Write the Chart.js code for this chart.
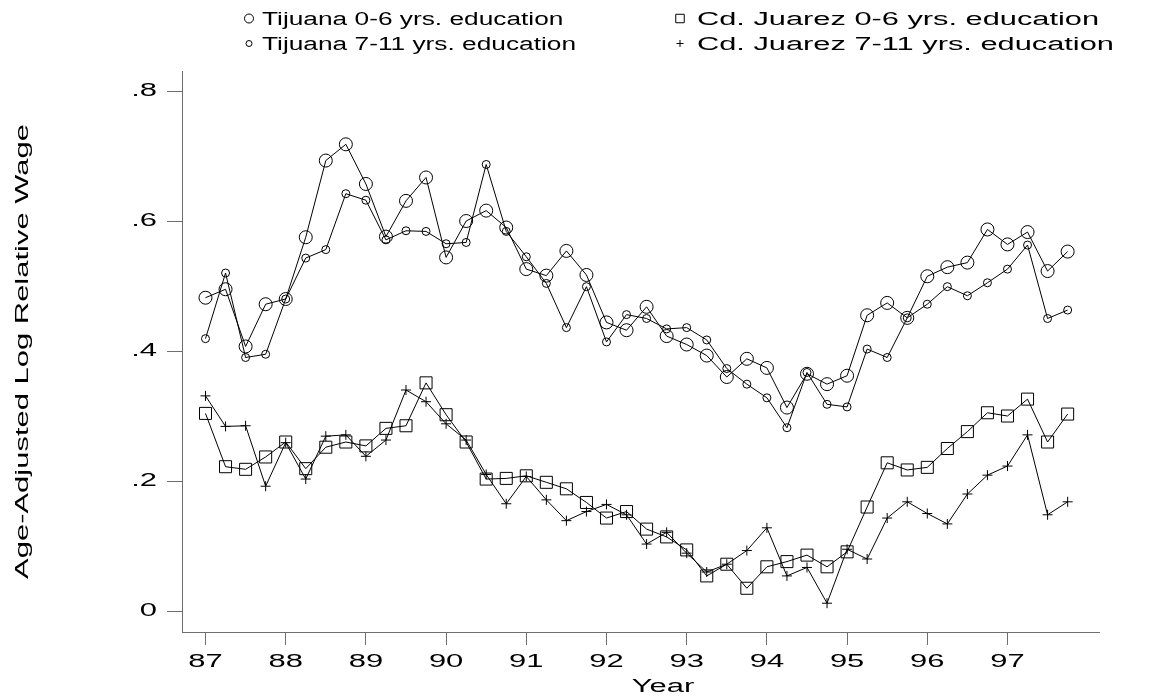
<!DOCTYPE html>
<html>
<head>
<meta charset="utf-8">
<script src="https://cdn.jsdelivr.net/npm/chart.js@4.4.0/dist/chart.umd.min.js"></script>
<style>
  html, body { margin: 0; padding: 0; background: #fff; }
</style>
</head>
<body>
<canvas id="chart" width="1151" height="700"></canvas>
<script>
// quarterly observations, 87q1 .. 97q4
const years = [
  87, 87.25, 87.5, 87.75, 88, 88.25, 88.5, 88.75, 89, 89.25, 89.5, 89.75,
  90, 90.25, 90.5, 90.75, 91, 91.25, 91.5, 91.75, 92, 92.25, 92.5, 92.75,
  93, 93.25, 93.5, 93.75, 94, 94.25, 94.5, 94.75, 95, 95.25, 95.5, 95.75,
  96, 96.25, 96.5, 96.75, 97, 97.25, 97.5, 97.75
];

const tijuana06 = [
  0.482, 0.495, 0.407, 0.472, 0.480, 0.575, 0.693, 0.718, 0.657, 0.576, 0.631, 0.667,
  0.544, 0.600, 0.616, 0.590, 0.526, 0.516, 0.554, 0.517, 0.444, 0.432, 0.468, 0.423,
  0.410, 0.393, 0.360, 0.388, 0.374, 0.313, 0.365, 0.349, 0.362, 0.455, 0.474, 0.451,
  0.515, 0.529, 0.536, 0.587, 0.564, 0.583, 0.523, 0.553
];

const tijuana711 = [
  0.419, 0.520, 0.390, 0.395, 0.480, 0.543, 0.556, 0.642, 0.632, 0.571, 0.585, 0.584,
  0.565, 0.567, 0.687, 0.584, 0.545, 0.504, 0.436, 0.499, 0.414, 0.456, 0.450, 0.434,
  0.436, 0.417, 0.373, 0.349, 0.328, 0.282, 0.367, 0.318, 0.314, 0.403, 0.390, 0.451,
  0.472, 0.499, 0.485, 0.505, 0.526, 0.563, 0.450, 0.463
];

const juarez06 = [
  0.304, 0.222, 0.218, 0.237, 0.260, 0.219, 0.252, 0.260, 0.254, 0.281, 0.285, 0.351,
  0.302, 0.260, 0.203, 0.204, 0.208, 0.198, 0.188, 0.167, 0.143, 0.153, 0.126, 0.114,
  0.094, 0.054, 0.072, 0.035, 0.068, 0.076, 0.086, 0.068, 0.091, 0.160, 0.228, 0.217,
  0.221, 0.250, 0.276, 0.305, 0.300, 0.326, 0.260, 0.303
];

const juarez711 = [
  0.331, 0.284, 0.285, 0.192, 0.259, 0.203, 0.269, 0.271, 0.238, 0.263, 0.340, 0.322,
  0.288, 0.263, 0.210, 0.165, 0.207, 0.171, 0.139, 0.153, 0.164, 0.148, 0.103, 0.121,
  0.089, 0.060, 0.072, 0.093, 0.128, 0.054, 0.067, 0.012, 0.095, 0.080, 0.143, 0.168,
  0.150, 0.134, 0.180, 0.209, 0.223, 0.271, 0.148, 0.168
];

const seriesNames = [
  'Tijuana 0-6 yrs. education',
  'Tijuana 7-11 yrs. education',
  'Cd. Juarez 0-6 yrs. education',
  'Cd. Juarez 7-11 yrs. education'
];

const xTicks = [87, 88, 89, 90, 91, 92, 93, 94, 95, 96, 97];
const xTickLabels = ['87', '88', '89', '90', '91', '92', '93', '94', '95', '96', '97'];
const yTicks = [0, 0.2, 0.4, 0.6, 0.8];
const yTickLabels = ['0', '.2', '.4', '.6', '.8'];
const xTitle = 'Year';
const yTitle = 'Age-Adjusted Log Relative Wage';

const FONT = '18px "Liberation Sans", Arial, sans-serif';
const STRETCH = 1.72;  // the original lettering is drawn very wide
const AXIS = '#6e6e6e';

const toPoints = (vals) => years.map((x, i) => ({ x: x, y: vals[i] }));

// one marker look per series: [pointStyle, radius in plot, radius in legend]
const markers = [
  ['circle', 6.5, 4.5],
  ['circle', 4, 3],
  ['rect', 8.5, 6],
  ['cross', 5, 3.5]
];
const seriesValues = [tijuana06, tijuana711, juarez06, juarez711];

const datasets = seriesValues.map((vals, i) => ({
  label: seriesNames[i],
  data: toPoints(vals),
  borderColor: '#000',
  borderWidth: 1,
  backgroundColor: 'transparent',
  pointStyle: markers[i][0],
  pointRadius: markers[i][1],
  pointBorderColor: '#000',
  pointBorderWidth: 1,
  pointBackgroundColor: 'transparent',
  tension: 0
}));

function drawText(ctx, str, x, y, align, baseline, rot, stretch) {
  ctx.save();
  ctx.translate(x, y);
  if (rot) ctx.rotate(rot);
  ctx.scale(stretch || STRETCH, 1);
  ctx.font = FONT;
  ctx.fillStyle = '#000';
  ctx.textAlign = align;
  ctx.textBaseline = baseline;
  ctx.fillText(str, 0, 0);
  ctx.restore();
}

// tick labels, titles and the legend in the wide lettering
const wideText = {
  id: 'wideText',
  afterDraw(chart) {
    const ctx = chart.ctx;
    const xs = chart.scales.x;
    const ys = chart.scales.y;

    xTicks.forEach((v, i) => drawText(ctx, xTickLabels[i], xs.getPixelForValue(v), 667, 'center', 'alphabetic'));
    yTicks.forEach((v, i) => drawText(ctx, yTickLabels[i], 157, ys.getPixelForValue(v), 'right', 'middle'));

    drawText(ctx, xTitle, 663, 692, 'center', 'alphabetic');
    drawText(ctx, yTitle, 23, (ys.top + ys.bottom) / 2, 'center', 'middle', -Math.PI / 2);

    // legend: two columns (marker x, text x, text stretch), two rows
    const cols = [[249, 262, 1.46], [680, 697, 1.71]];
    const rows = [25, 50];
    const order = [[0, 0, 0], [1, 0, 1], [2, 1, 0], [3, 1, 1]];
    order.forEach(([s, c, r]) => {
      const [mx, tx, st] = cols[c];
      const y = rows[r];
      ctx.save();
      ctx.strokeStyle = '#000';
      ctx.fillStyle = 'transparent';
      ctx.lineWidth = 1;
      Chart.helpers.drawPoint(ctx, {
        pointStyle: markers[s][0],
        radius: markers[s][2],
        rotation: 0,
        borderWidth: 1
      }, mx, y - 6.5);
      ctx.restore();
      drawText(ctx, seriesNames[s], tx, y, 'left', 'alphabetic', 0, st);
    });
  }
};

new Chart(document.getElementById('chart'), {
  type: 'line',
  data: { datasets: datasets },
  plugins: [wideText],
  options: {
    responsive: false,
    animation: false,
    devicePixelRatio: 1,
    layout: { padding: { top: 71, right: 52, bottom: 0, left: 0 } },
    plugins: {
      legend: { display: false },
      tooltip: { enabled: false }
    },
    scales: {
      x: {
        type: 'linear',
        min: 86.707,
        max: 98.141,
        afterBuildTicks: (s) => { s.ticks = xTicks.map(v => ({ value: v })); },
        afterFit: (s) => { s.height = 68; },
        ticks: { display: false },
        grid: { drawOnChartArea: false, drawTicks: true, tickLength: 13, color: AXIS },
        border: { display: true, color: AXIS, width: 1 }
      },
      y: {
        type: 'linear',
        min: -0.0323,
        max: 0.8308,
        afterBuildTicks: (s) => { s.ticks = yTicks.map(v => ({ value: v })); },
        afterFit: (s) => { s.width = 182; },
        ticks: { display: false },
        grid: { drawOnChartArea: false, drawTicks: true, tickLength: 15, color: AXIS },
        border: { display: true, color: AXIS, width: 1 }
      }
    }
  }
});
</script>
</body>
</html>
